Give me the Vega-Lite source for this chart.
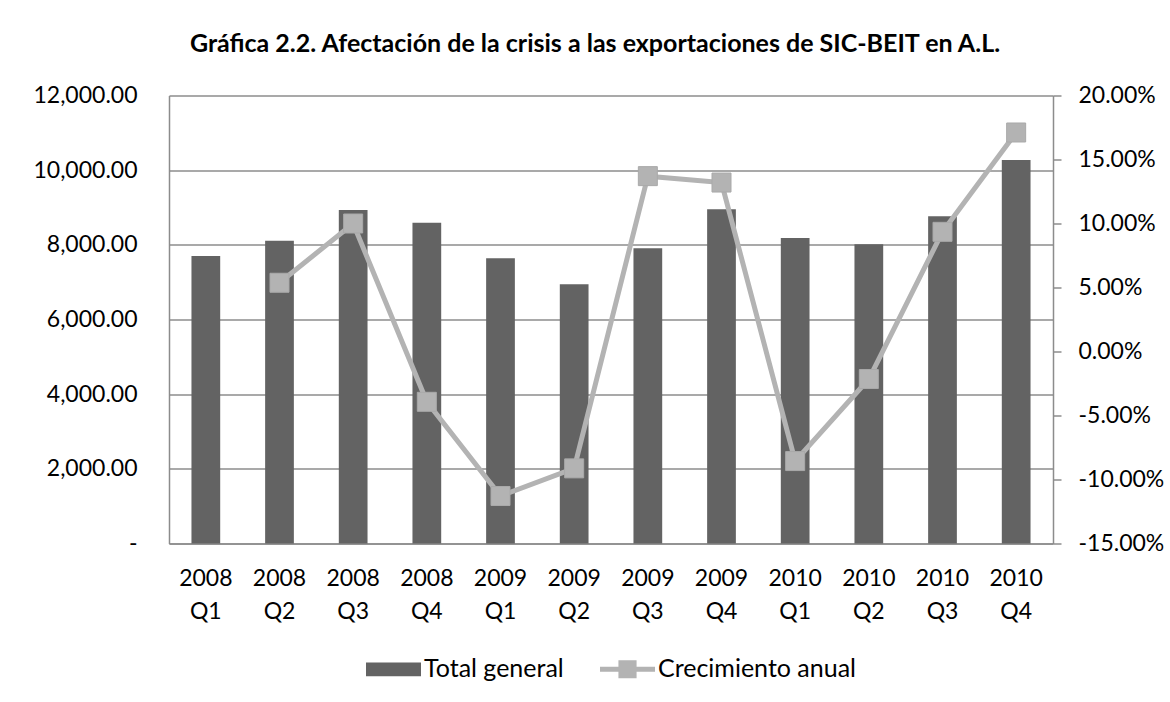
{
  "$schema": "https://vega.github.io/schema/vega-lite/v6.json",
  "autosize": {"type": "none"},
  "width": 884,
  "height": 448,
  "padding": {"left": 169, "top": 95.5, "right": 117, "bottom": 158.5},
  "background": "white",
  "title": {
    "text": "Gráfica 2.2. Afectación de la crisis a las exportaciones de SIC-BEIT en A.L.",
    "font": "Lato",
    "fontSize": 25,
    "fontWeight": "bold",
    "color": "#000000",
    "anchor": "middle",
    "baseline": "alphabetic",
    "dx": -16,
    "offset": 8
  },
  "config": {
    "view": {"stroke": null},
    "font": "Lato",
    "axis": {"labelFont": "Lato", "labelFontSize": 23, "labelColor": "#000000"},
    "legend": {"layout": {"bottom": {"anchor": "middle"}}}
  },
  "data": {
    "values": [
      {"q": "2008 Q1", "total": 7701, "growth": null},
      {"q": "2008 Q2", "total": 8111, "growth": 0.0537},
      {"q": "2008 Q3", "total": 8933, "growth": 0.1000},
      {"q": "2008 Q4", "total": 8593, "growth": -0.0393},
      {"q": "2009 Q1", "total": 7639, "growth": -0.1129},
      {"q": "2009 Q2", "total": 6943, "growth": -0.0913},
      {"q": "2009 Q3", "total": 7907, "growth": 0.1370},
      {"q": "2009 Q4", "total": 8952, "growth": 0.1320},
      {"q": "2010 Q1", "total": 8183, "growth": -0.0856},
      {"q": "2010 Q2", "total": 8014, "growth": -0.0215},
      {"q": "2010 Q3", "total": 8764, "growth": 0.0935},
      {"q": "2010 Q4", "total": 10272, "growth": 0.1711}
    ]
  },
  "encoding": {
    "x": {
      "field": "q",
      "type": "nominal",
      "sort": null,
      "scale": {"paddingInner": 0.61, "paddingOuter": 0.305},
      "axis": {
        "title": null,
        "labelAngle": 0,
        "labelExpr": "split(datum.label, ' ')",
        "labelLineHeight": 33,
        "labelBaseline": "top",
        "labelPadding": 24,
        "ticks": false,
        "domainColor": "#8c8c8c",
        "domainWidth": 1.5
      }
    }
  },
  "layer": [
    {
      "mark": {"type": "bar", "color": "#636363"},
      "encoding": {
        "y": {
          "field": "total",
          "type": "quantitative",
          "scale": {"domain": [0, 12000], "nice": false},
          "axis": {
            "title": null,
            "orient": "left",
            "values": [0, 2000, 4000, 6000, 8000, 10000, 12000],
            "labelExpr": "datum.value === 0 ? '-\u00a0\u00a0\u00a0' : format(datum.value, ',.2f')",
            "labelPadding": 32,
            "ticks": false,
            "grid": true,
            "gridColor": "#8c8c8c",
            "gridWidth": 1.3,
            "domainColor": "#8c8c8c",
            "domainWidth": 1.5
          }
        },
        "color": {
          "datum": "Total general",
          "type": "nominal",
          "scale": {"domain": ["Total general", "Crecimiento anual"], "range": ["#636363", "#b3b3b3"]},
          "legend": {
            "title": null,
            "orient": "bottom",
            "direction": "horizontal",
            "offset": 18,
            "labelFont": "Lato",
            "labelFontSize": 25,
            "labelColor": "#000000",
            "labelLimit": 0,
            "labelOffset": 3,
            "symbolSize": 3025,
            "columnPadding": 36,
            "encode": {
              "symbols": {
                "update": {
                  "shape": {"signal": "datum.value === 'Total general' ? 'M-1,-0.25H1V0.25H-1Z' : 'M-1,-0.09H1V0.09H-1Z M-0.33,-0.33H0.33V0.33H-0.33Z'"},
                  "fill": {"signal": "datum.value === 'Total general' ? '#636363' : '#b3b3b3'"},
                  "stroke": {"value": "transparent"},
                  "strokeWidth": {"value": 0},
                  "size": {"value": 3025},
                  "opacity": {"value": 1}
                }
              }
            }
          }
        }
      }
    },
    {
      "transform": [{"filter": "isValid(datum.growth)"}],
      "mark": {
        "type": "line",
        "strokeWidth": 5,
        "point": {"shape": "square", "size": 361, "filled": true, "stroke": "#a9a9a9", "strokeWidth": 1}
      },
      "encoding": {
        "y": {
          "field": "growth",
          "type": "quantitative",
          "scale": {"domain": [-0.15, 0.2], "nice": false, "zero": false},
          "axis": {
            "title": null,
            "orient": "right",
            "values": [-0.15, -0.1, -0.05, 0, 0.05, 0.1, 0.15, 0.2],
            "labelExpr": "replace(format(datum.value, '.2%'), '\u2212', '-')",
            "grid": false,
            "ticks": true,
            "tickSize": 8,
            "tickColor": "#8c8c8c",
            "tickWidth": 1.5,
            "labelPadding": 17,
            "domainColor": "#8c8c8c",
            "domainWidth": 1.5
          }
        },
        "color": {"datum": "Crecimiento anual", "type": "nominal"}
      }
    }
  ],
  "resolve": {"scale": {"y": "independent"}}
}
